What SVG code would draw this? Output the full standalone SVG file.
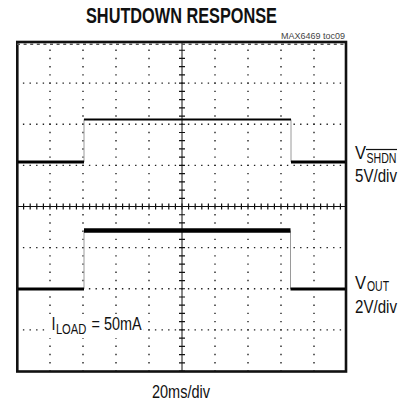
<svg xmlns="http://www.w3.org/2000/svg" width="414" height="406" viewBox="0 0 414 406">
<style>
.t{font-family:"Liberation Sans",Arial,sans-serif;fill:#111}
.vd{stroke:#222;stroke-width:1.4;stroke-dasharray:1.4 6.825;fill:none}
.hd{stroke:#222;stroke-width:1.4;stroke-dasharray:1.4 5.2;fill:none}
.tr{stroke:#000;fill:none;stroke-linecap:butt}
.edge{stroke:#9a9a9a;stroke-width:1;fill:none}
</style>
<rect width="414" height="406" fill="#fff"/>
<g id="grid">
<line class="vd" x1="50" y1="41.3" x2="50" y2="371"/>
<line class="vd" x1="83" y1="41.3" x2="83" y2="371"/>
<line class="vd" x1="116" y1="41.3" x2="116" y2="371"/>
<line class="vd" x1="149" y1="41.3" x2="149" y2="371"/>
<line class="vd" x1="215" y1="41.3" x2="215" y2="371"/>
<line class="vd" x1="248" y1="41.3" x2="248" y2="371"/>
<line class="vd" x1="281" y1="41.3" x2="281" y2="371"/>
<line class="vd" x1="314" y1="41.3" x2="314" y2="371"/>
<line class="hd" x1="16.3" y1="83.1" x2="347" y2="83.1"/>
<line class="hd" x1="16.3" y1="124.2" x2="347" y2="124.2"/>
<line class="hd" x1="16.3" y1="165.4" x2="347" y2="165.4"/>
<line class="hd" x1="16.3" y1="247.6" x2="347" y2="247.6"/>
<line class="hd" x1="16.3" y1="288.8" x2="347" y2="288.8"/>
<line class="hd" x1="16.3" y1="329.9" x2="347" y2="329.9"/>
</g>
<g id="axes">
<line x1="182" y1="42" x2="182" y2="371" stroke="#111" stroke-width="1"/>
<line x1="17" y1="206.5" x2="347" y2="206.5" stroke="#111" stroke-width="1"/>
<line x1="182" y1="41.4" x2="182" y2="371" stroke="#111" stroke-width="6" stroke-dasharray="1.2 7.025"/>
<line x1="16.4" y1="206.5" x2="347" y2="206.5" stroke="#111" stroke-width="6" stroke-dasharray="1.2 5.4"/>
</g>
<g id="frame">
<rect x="17.3" y="42" width="328.7" height="329.5" fill="none" stroke="#111" stroke-width="2.6"/>
<line x1="17" y1="44.3" x2="346" y2="44.3" stroke="#555" stroke-width="1.4" stroke-dasharray="3 3.6"/>
</g>
<g id="label-bg">
<rect x="45" y="314" width="98" height="24" fill="#fff"/>
</g>
<g id="trace-shdn">
<line class="edge" x1="84" y1="162" x2="84" y2="119.5"/>
<line class="edge" x1="291" y1="119.5" x2="291" y2="162"/>
<line class="tr" x1="18" y1="162" x2="84" y2="162" stroke-width="2.8"/>
<line class="tr" x1="84" y1="119.5" x2="291" y2="119.5" stroke-width="2.2"/>
<line class="tr" x1="291" y1="162" x2="345" y2="162" stroke-width="2.8"/>
</g>
<g id="trace-out">
<line class="edge" x1="84" y1="289" x2="84" y2="230.5"/>
<line class="edge" x1="290.5" y1="230.5" x2="290.5" y2="289"/>
<line class="tr" x1="18" y1="289" x2="84" y2="289" stroke-width="2.8"/>
<line class="tr" x1="84" y1="230.5" x2="290.5" y2="230.5" stroke-width="4.6"/>
<line class="tr" x1="290.5" y1="289" x2="345" y2="289" stroke-width="2.8"/>
</g>
<g id="labels">
<text class="t" x="86" y="23" font-size="22" font-weight="bold" textLength="191" lengthAdjust="spacingAndGlyphs">SHUTDOWN RESPONSE</text>
<text class="t" x="281" y="38.5" font-size="9" style="fill:#444" textLength="64" lengthAdjust="spacingAndGlyphs">MAX6469 toc09</text>
<text class="t" x="355" y="159" font-size="18" textLength="11" lengthAdjust="spacingAndGlyphs">V</text>
<text class="t" x="366.5" y="163" font-size="15" textLength="30" lengthAdjust="spacingAndGlyphs">SHDN</text>
<line x1="366" y1="149.5" x2="397" y2="149.5" stroke="#111" stroke-width="1.2"/>
<text class="t" x="355" y="182" font-size="18" textLength="42" lengthAdjust="spacingAndGlyphs">5V/div</text>
<text class="t" x="355" y="289.3" font-size="18" textLength="11" lengthAdjust="spacingAndGlyphs">V</text>
<text class="t" x="367" y="291" font-size="14" textLength="22" lengthAdjust="spacingAndGlyphs">OUT</text>
<text class="t" x="355" y="312.5" font-size="18" textLength="42" lengthAdjust="spacingAndGlyphs">2V/div</text>
<text class="t" transform="translate(51.5,330) scale(0.8,1)" font-size="18">I<tspan font-size="14" dy="3.5" dx="0.5">LOAD</tspan><tspan dy="-3.5" dx="1.5"> = 50mA</tspan></text>
<text class="t" x="152" y="398" font-size="18" textLength="58" lengthAdjust="spacingAndGlyphs">20ms/div</text>
</g>
</svg>
